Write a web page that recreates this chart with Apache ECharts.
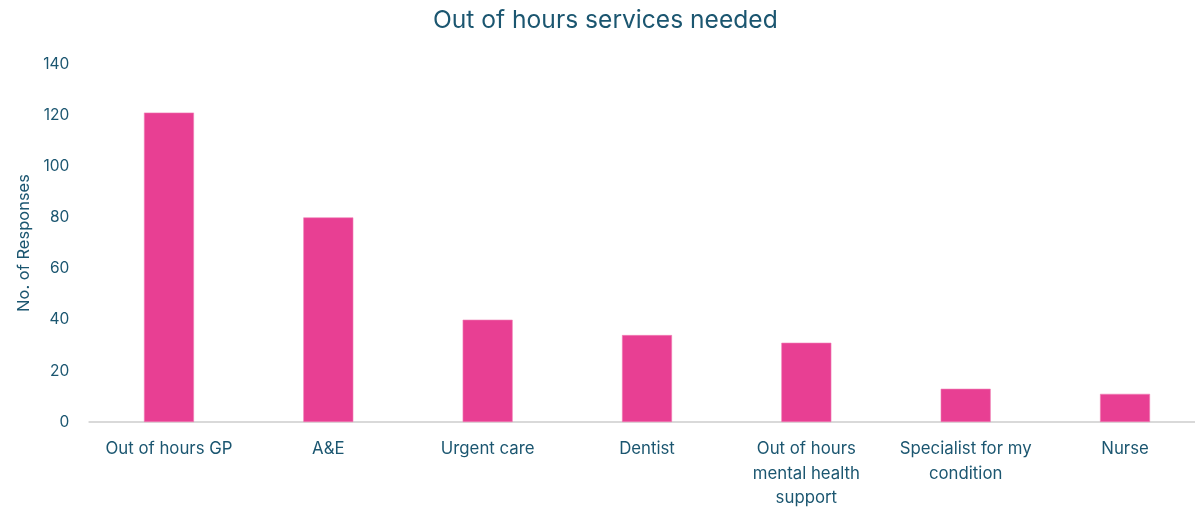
<!DOCTYPE html>
<html><head><meta charset="utf-8">
<script src="https://cdn.jsdelivr.net/npm/echarts@6/dist/echarts.min.js"></script>
<style>html,body{margin:0;padding:0;background:#fff}#c{width:1195px;height:508px}</style>
</head><body><div id="c"></div>
<script>
const categories = ['Out of hours GP','A&E','Urgent care','Dentist','Out of hours\nmental health\nsupport','Specialist for my\ncondition','Nurse'];
const values = [121, 80, 40, 34, 31, 13, 11];
const yTicks = {min:0, max:140, interval:20};
const txt = '#1b5670';
const font = 'Inter';
const chart = echarts.init(document.getElementById('c'));
chart.setOption({
  animation:false,
  title:{text:'Out of hours services needed', left:428, top:3,
    textStyle:{color:txt, fontSize:24.6, fontWeight:'normal', fontFamily:font}},
  grid:{left:89.3, right:-9.7, top:64, bottom:86, containLabel:false, outerBoundsMode:'none'},
  xAxis:{type:'category', data:categories,
    axisLine:{lineStyle:{color:'#d9d9d9', width:2}}, axisTick:{show:false},
    axisLabel:{color:txt, fontSize:16.8, fontFamily:font, lineHeight:24.5, margin:15, interval:0}},
  yAxis:{type:'value', min:yTicks.min, max:yTicks.max, interval:yTicks.interval,
    name:'No. of Responses', nameLocation:'middle', nameGap:52, nameRotate:90,
    nameTextStyle:{color:txt, fontSize:16.5, fontFamily:font},
    axisLine:{show:false}, axisTick:{show:false}, splitLine:{show:false},
    axisLabel:{color:txt, fontSize:15.5, fontFamily:font, margin:20}},
  series:[{type:'bar', data:values, barWidth:50,
    itemStyle:{color:'#e83f93', borderColor:'#f080b5', borderWidth:0.6}}]
});
</script></body></html>
